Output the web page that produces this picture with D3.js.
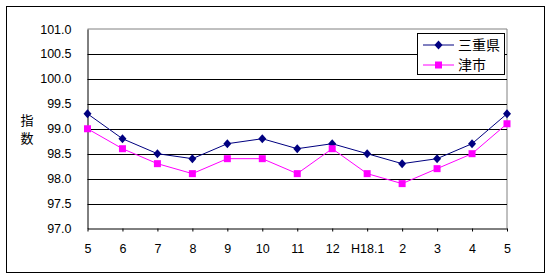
<!DOCTYPE html>
<html>
<head>
<meta charset="utf-8">
<script src="https://cdn.jsdelivr.net/npm/d3@7"></script>
<style>
  body { margin: 0; background: #fff; }
  text { font-family: "Liberation Sans", Arial, "Noto Sans CJK JP", sans-serif; }
</style>
</head>
<body>
<div id="chart"></div>
<script>
const months = ['5', '6', '7', '8', '9', '10', '11', '12', 'H18.1', '2', '3', '4', '5'];
const mie = [99.3, 98.8, 98.5, 98.4, 98.7, 98.8, 98.6, 98.7, 98.5, 98.3, 98.4, 98.7, 99.3];
const tsu = [99.0, 98.6, 98.3, 98.1, 98.4, 98.4, 98.1, 98.6, 98.1, 97.9, 98.2, 98.5, 99.1];
const yTicks = [97.0, 97.5, 98.0, 98.5, 99.0, 99.5, 100.0, 100.5, 101.0];
const seriesNames = ['三重県', '津市'];

const width = 551, height = 278;
const plot = { left: 87.5, right: 507, top: 29, bottom: 228.5 };

const svg = d3.select('#chart').append('svg')
  .attr('width', width).attr('height', height);

// outer frame
svg.append('rect')
  .attr('x', 6.5).attr('y', 6.5).attr('width', 538).attr('height', 266)
  .attr('fill', '#fff').attr('stroke', '#000');

const xScale = d3.scalePoint().domain(d3.range(months.length)).range([plot.left, plot.right]);
const yScale = d3.scaleLinear().domain([97, 101]).range([plot.bottom, plot.top]);

// plot border (grey top/right)
svg.append('path')
  .attr('d', `M${plot.left},${plot.top}H${plot.right}V${plot.bottom}`)
  .attr('fill', 'none').attr('stroke', '#808080');

// gridlines
svg.append('g')
  .selectAll('line')
  .data(yTicks.filter((d) => d > 97 && d < 101))
  .join('line')
  .attr('x1', plot.left).attr('x2', plot.right)
  .attr('y1', (d) => Math.round(yScale(d)) + 0.5)
  .attr('y2', (d) => Math.round(yScale(d)) + 0.5)
  .attr('stroke', '#000');

// y axis
const yAxis = svg.append('g')
  .attr('transform', `translate(${plot.left}, 0)`)
  .call(d3.axisLeft(yScale).tickValues(yTicks).tickFormat(d3.format('.1f')).tickSize(0).tickPadding(16));
yAxis.select('.domain').attr('stroke', '#000');
yAxis.selectAll('text').attr('font-size', 12.5).attr('fill', '#000');

// x axis
const xAxis = svg.append('g')
  .attr('transform', `translate(0, ${plot.bottom})`)
  .call(d3.axisBottom(xScale).tickFormat((i) => months[i]).tickSize(3).tickPadding(13).tickSizeOuter(0));
xAxis.select('.domain').attr('stroke', '#000');
xAxis.selectAll('line').attr('stroke', '#000');
xAxis.selectAll('text').attr('font-size', 12.5).attr('fill', '#000');

// y title
svg.append('text').attr('x', 27).attr('y', 125).attr('text-anchor', 'middle')
  .attr('font-size', 13).text('指');
svg.append('text').attr('x', 27).attr('y', 143).attr('text-anchor', 'middle')
  .attr('font-size', 13).text('数');

const line = d3.line().x((d, i) => xScale(i)).y((d) => yScale(d));

function drawSeries(values, color, shape) {
  const g = svg.append('g');
  g.append('path').datum(values).attr('d', line)
    .attr('fill', 'none').attr('stroke', color).attr('stroke-width', 1);
  g.selectAll('path.m').data(values).join('path')
    .attr('class', 'm')
    .attr('transform', (d, i) => `translate(${xScale(i)},${yScale(d)})`)
    .attr('d', shape)
    .attr('fill', color);
}

const diamond = 'M0,-4.5L4,0L0,4.5L-4,0Z';
const square = 'M-3.5,-3.5H3.5V3.5H-3.5Z';
drawSeries(mie, '#000080', diamond);
drawSeries(tsu, '#ff00ff', square);

// legend
const legend = svg.append('g');
legend.append('rect').attr('x', 417.5).attr('y', 33.5).attr('width', 87).attr('height', 41)
  .attr('fill', '#fff').attr('stroke', '#000');
const legendItems = [
  { name: seriesNames[0], color: '#000080', shape: diamond },
  { name: seriesNames[1], color: '#ff00ff', shape: square }
];
legendItems.forEach((d, i) => {
  const y = 45 + i * 20;
  legend.append('line').attr('x1', 423).attr('x2', 454).attr('y1', y).attr('y2', y)
    .attr('stroke', d.color);
  legend.append('path').attr('transform', `translate(438.5,${y})`).attr('d', d.shape)
    .attr('fill', d.color);
  legend.append('text').attr('x', 458).attr('y', y + 5).attr('font-size', 14)
    .attr('font-family', '"Noto Sans CJK JP", sans-serif').text(d.name);
});
</script>
</body>
</html>
